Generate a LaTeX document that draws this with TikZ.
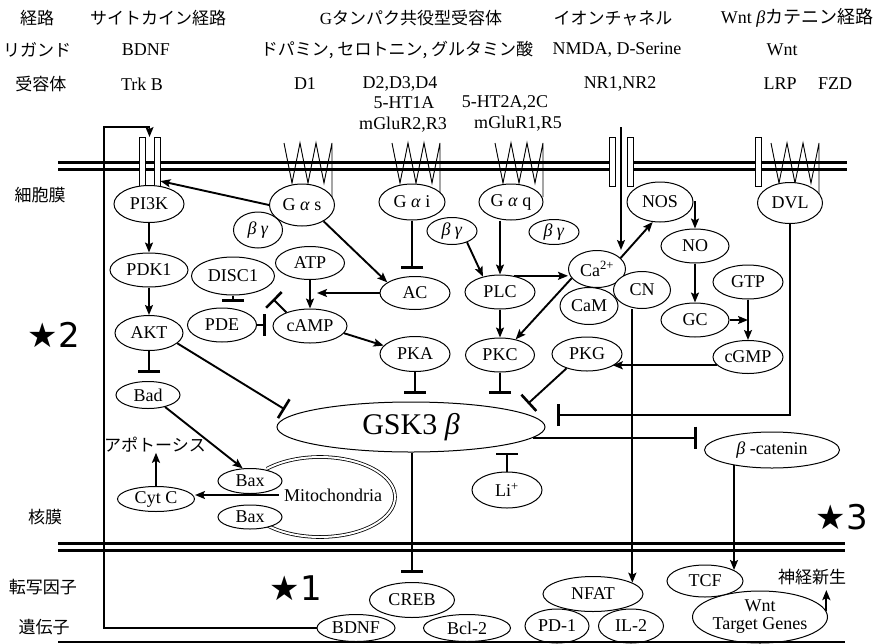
\documentclass[tikz,border=0pt]{standalone}
\usepackage{fontspec}
\setmainfont{Liberation Serif}
\newfontfamily\jp{Noto Sans CJK JP}
\newfontfamily\dv{DejaVu Sans}
\usetikzlibrary{shapes.geometric, arrows.meta, positioning}

\begin{document}
\begin{tikzpicture}[x=1pt, y=-1pt,
    mol/.style={ellipse, draw, line width=1pt, fill=white, inner sep=0pt, font=\fontsize{18}{18}\selectfont},
    sz/.style 2 args={minimum width=#1pt, minimum height=#2pt},
    act/.style={-{Stealth[length=10pt, width=8pt, inset=2pt]}, line width=1.9pt},
    inh/.style={-{Bar[width=22pt, line width=2.6pt]}, line width=1.9pt},
    lbl/.style={inner sep=0pt, font=\fontsize{18}{18}\selectfont},
    jlbl/.style={inner sep=0pt, font=\jp\fontsize{17}{17}\selectfont},
    star/.style={inner sep=0pt, font=\dv\fontsize{34}{34}\selectfont},
    memb/.style={line width=3pt},
    bar/.style={rectangle, draw, line width=0.9pt, fill=white, inner sep=0pt, minimum width=6pt, minimum height=49pt},
    tm/.style={line width=0.9pt}
]
\useasboundingbox (0,0) rectangle (881,643);

% headings
\node[jlbl] (hpath) at (37,18) {経路};
\node[jlbl] (hcyto) at (158,18) {サイトカイン経路};
\node[jlbl] (hgpcr) at (411,18) {\rmfamily G\jp タンパク共役型受容体};
\node[jlbl] (hion) at (613,18) {イオンチャネル};
\node[lbl] (hwnt) at (797,18) {Wnt \textit{β}{\jp カテニン経路}};
\node[jlbl] (hlig) at (37,50) {リガンド};
\node[lbl] (lbdnf) at (146,50) {BDNF};
\node[jlbl] (lmono) at (397,50) {ドパミン, セロトニン, グルタミン酸};
\node[lbl] (lnmda) at (617,50) {NMDA, D-Serine};
\node[lbl] (lwnt) at (782,50) {Wnt};
\node[jlbl] (hrec) at (41,84) {受容体};
\node[lbl] (rtrkb) at (142,84) {Trk B};
\node[lbl] (rd1) at (305,84) {D1};
\node[lbl] (rd2) at (400,84) {D2,D3,D4};
\node[lbl] (rht1) at (404,103) {5-HT1A};
\node[lbl] (rmglu2) at (403,125) {mGluR2,R3};
\node[lbl] (rht2) at (505,103) {5-HT2A,2C};
\node[lbl] (rmglu1) at (518,124) {mGluR1,R5};
\node[lbl] (rnr) at (620,84) {NR1,NR2};
\node[lbl] (rlrp) at (780,84) {LRP};
\node[lbl] (rfzd) at (835,84) {FZD};

% side labels
\node[jlbl] (scell) at (40,195) {細胞膜};
\node[jlbl] (snuc) at (45,517) {核膜};
\node[jlbl] (stf) at (43,587) {転写因子};
\node[jlbl] (sgene) at (44,627) {遺伝子};
\node[star] (star2) at (54,335) {★2};
\node[star] (star1) at (296,588) {★1};
\node[star] (star3) at (842,517) {★3};

% membranes
\draw[memb] (58,162) -- (847,162);
\draw[memb] (58,169.5) -- (847,169.5);
\draw[memb] (58,543) -- (845,543);
\draw[memb] (58,550.5) -- (845,550.5);

% receptors
\node[bar] (trkbl) at (142,161.5) {};
\node[bar] (trkbr) at (157,161.5) {};
\fill[white] (616,157) rectangle (627,175);
\node[bar] (ionl) at (612.5,161.5) {};
\node[bar] (ionr) at (630.5,161.5) {};
\node[bar] (lrp) at (758.5,161.5) {};
\foreach \rx/\ry in {284/205, 392/202, 495/197, 771/195}
  \draw[tm] (\rx,143) -- ++(8,40) -- ++(8,-40) -- ++(8,40) -- ++(8,-40) -- ++(8,40) -- ++(8,-40) -- (\rx+48,\ry);
\coordinate (trkb) at (149.5,137);
\coordinate (loopc) at (104,127);
\coordinate (ionin) at (621,127);

% cytoplasm
\node[mol, sz={49}{36}] (bgs) at (258,230) {\textit{β~γ}};
\node[mol, sz={65}{42}] (gas) at (302,205) {G \textit{α} s};
\node[mol, sz={70}{37}] (pi3k) at (149,204) {PI3K};
\node[mol, sz={78}{34}] (pdk1) at (149,270) {PDK1};
\node[mol, sz={68}{35}] (akt) at (149,333) {AKT};
\node[mol, sz={64}{27}] (bad) at (148,395) {Bad};
\node[jlbl] (apop) at (155,445) {アポトーシス};
\node[mol, sz={77}{25}] (cytc) at (156,499) {Cyt C};
\draw[double, double distance=2pt, line width=0.8pt] (320,497) ++(135:75 and 40) arc[start angle=135, end angle=-135, x radius=75, y radius=40];
\node[mol, sz={64}{25}] (bax1) at (250,481) {Bax};
\node[mol, sz={64}{24}] (bax2) at (250,517) {Bax};
\node[lbl, inner sep=5pt] (mito) at (333,495) {Mitochondria};
\node[mol, sz={83}{38}] (disc1) at (233,276) {DISC1};
\node[mol, sz={69}{33}] (atp) at (310,263) {ATP};
\node[mol, sz={69}{34}] (pde) at (222,325) {PDE};
\node[mol, sz={74}{34}] (camp) at (310,326) {cAMP};
\node[mol, sz={70}{33}] (ac) at (415,293) {AC};
\node[mol, sz={70}{35}] (pka) at (415,354) {PKA};
\node[mol, sz={50}{27}] (bgi) at (452,231) {\textit{β~γ}};
\node[mol, sz={66}{36}] (gai) at (412,202) {G \textit{α} i};
\node[mol, sz={50}{25}] (bgq) at (554,232) {\textit{β~γ}};
\node[mol, sz={64}{36}] (gaq) at (511,202) {G \textit{α} q};
\node[mol, sz={70}{34}] (plc) at (500,292) {PLC};
\node[mol, sz={69}{34}] (pkc) at (500,355) {PKC};
\node[mol, sz={70}{34}] (pkg) at (587,354) {PKG};
\node[mol, sz={57}{37}] (ca) at (597,269) {Ca\textsuperscript{2+}};
\node[mol, sz={58}{37}] (cam) at (589,306) {CaM};
\node[mol, sz={57}{37}] (cn) at (642,290) {CN};
\node[mol, sz={66}{40}] (nos) at (660,202) {NOS};
\node[mol, sz={68}{34}] (no) at (695,246) {NO};
\node[mol, sz={68}{34}] (gc) at (695,320) {GC};
\node[mol, sz={70}{34}] (gtp) at (748,282) {GTP};
\node[mol, sz={70}{33}] (cgmp) at (748,357) {cGMP};
\node[mol, sz={65}{41}] (dvl) at (790,203) {DVL};
\node[mol, sz={268}{50}, font=\fontsize{30}{30}\selectfont] (gsk) at (411,427) {GSK3 \textit{β}};
\node[mol, sz={70}{36}] (li) at (507,490) {Li\textsuperscript{+}};
\node[mol, sz={135}{36}] (bcat) at (772,450) {\textit{β} -catenin};
\coordinate (dvlbar) at (557,415);
\coordinate (campbar) at (273,299);

% nucleus
\node[mol, sz={135}{52}, align=center] (wnt) at (760,617) {Wnt\\Target Genes};
\node[mol, sz={76}{32}] (tcf) at (705,581) {TCF};
\node[jlbl] (neuro) at (812,577) {神経新生};
\node[mol, sz={78}{27}] (bdnfg) at (356,628) {BDNF};
\node[mol, sz={87}{27}] (bcl2) at (467,628) {Bcl-2};
\node[mol, sz={85}{35}] (creb) at (412,600) {CREB};
\node[mol, sz={64}{34}] (pd1) at (557,626) {PD-1};
\node[mol, sz={65}{34}] (il2) at (631,626) {IL-2};
\node[mol, sz={100}{35}] (nfat) at (593,594) {NFAT};
\draw[line width=2pt] (58,642) -- (845,642);

% connectors
\draw[act] (bdnfg.west) -| (loopc) -| (trkb);
\draw[act] (gas.west) -- (trkbr.-80);
\draw[act] (pi3k.south) -- (pdk1.north);
\draw[act] (pdk1.south) -- (akt.north);
\draw[inh, shorten >=8pt] (akt.south) -- (akt.south |- bad.north);
\draw[inh, shorten >=10pt] (akt.-20) -- (gsk.174);
\draw[act] (bad.-35) -- (bax1.120);
\draw[act] (cytc.north) -- (cytc.north |- apop.south);
\draw[act] (mito.west) -- (mito.west -| cytc.east);
\draw[act] (gas.-37) -- (ac.159);
\draw[act, shorten >=7pt] (ac.west) -- (ac.west -| atp.south);
\draw[act] (atp.south) -- (camp.north);
\draw[inh] (camp.150) -- (campbar);
\draw[inh, shorten >=6pt] (disc1.south) -- (disc1.south |- pde.north);
\draw[inh, shorten >=7pt] (pde.east) -- (pde.east -| camp.west);
\draw[act] (camp.-12) -- (pka.165);
\draw[inh, shorten >=8pt] (pka.south) -- (pka.south |- gsk.north);
\draw[inh, shorten >=7pt] (gai.south) -- (gai.south |- ac.north);
\draw[act] (bgi.-37) -- (plc.138);
\draw[act] (plc.north |- gaq.south) -- (plc.north);
\draw[act] (plc.50) -- (plc.50 -| ca.west);
\draw[act] (plc.south) -- (pkc.north);
\draw[act] (ca.200) -- (pkc.45);
\draw[inh, shorten >=8pt] (pkc.south) -- (pkc.south |- gsk.north);
\draw[act] (ionin) -- (ionin |- ca.north);
\draw[act] (ca.25) -- (nos.-110);
\draw[act] (nos.east) -| (no.north);
\draw[act] (no.south) -- (gc.north);
\draw[act] (gtp.south) -- (cgmp.north);
\draw[act] (gc.east) -- (gc.east -| gtp.south);
\draw[act] (cgmp.195) -- (cgmp.195 -| pkg.335);
\draw[inh, shorten >=12pt] (pkg.215) -- (gsk.8);
\draw[inh] (dvl.south) |- (dvlbar);
\draw[inh, shorten >=7pt] (gsk.-5) -- (gsk.-5 -| bcat.west);
\draw[inh] (li.north) -- (li.north |- gsk.south);
\draw[inh, shorten >=9pt] (gsk.south -| creb.north) -- (creb.north);
\draw[act] (cn.south -| nfat.16) -- (nfat.16);
\draw[act] (bcat.-158) -- (bcat.-158 |- tcf.21);
\draw[act, shorten >=5pt] (wnt.5) -- (wnt.5 |- neuro.south);
\end{tikzpicture}
\end{document}
